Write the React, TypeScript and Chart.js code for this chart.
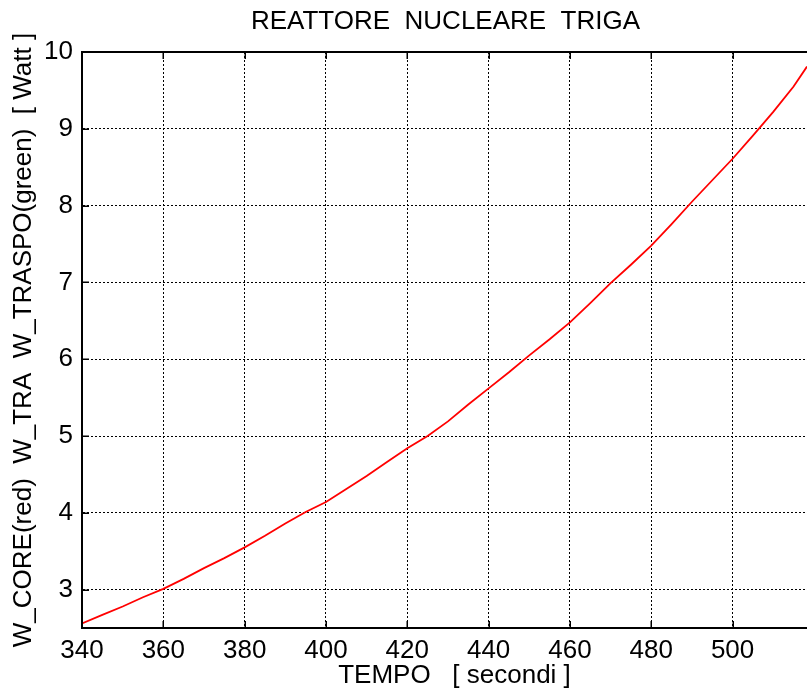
import React, { useEffect, useRef } from "react";
import { Chart, registerables } from "chart.js";

Chart.register(...registerables);

const titleText = "REATTORE  NUCLEARE  TRIGA";
const xTitle = "TEMPO   [ secondi ]";
const yTitle = "W_CORE(red)  W_TRA  W_TRASPO(green)  [ Watt ]";

const timeSeconds = [
  340, 345, 350, 355, 360, 365, 370, 375, 380, 385, 390, 395, 400, 405, 410,
  415, 420, 425, 430, 435, 440, 445, 450, 455, 460, 465, 470, 475, 480, 485,
  490, 495, 500, 505, 510, 515, 518.3,
];
const wCore = [
  2.56, 2.67, 2.78, 2.9, 3.01, 3.14, 3.28, 3.41, 3.55, 3.7, 3.86, 4.01, 4.14,
  4.31, 4.48, 4.66, 4.84, 5.0, 5.19, 5.41, 5.62, 5.83, 6.05, 6.26, 6.48, 6.73,
  6.99, 7.23, 7.48, 7.76, 8.05, 8.33, 8.61, 8.91, 9.22, 9.55, 9.81,
];

const xMin = 340;
const xMax = 518.3;
const xStep = 20;
const yMin = 2.5;
const yMax = 10;
const yStep = 1;

const FONT = "'Liberation Sans', Arial, Helvetica, sans-serif";

const matlabPlugin = {
  id: "matlabBox",
  afterDraw(chart: any) {
    const { ctx, chartArea } = chart;
    const xs = chart.scales.x;
    const ys = chart.scales.y;
    ctx.save();
    ctx.strokeStyle = "#000";
    // top border
    ctx.lineWidth = 2;
    ctx.beginPath();
    ctx.moveTo(chartArea.left - 1, chartArea.top);
    ctx.lineTo(chartArea.right, chartArea.top);
    ctx.stroke();
    // inward ticks
    ctx.lineWidth = 1.5;
    const tl = 7;
    xs.ticks.forEach((t: any) => {
      const px = Math.round(xs.getPixelForValue(t.value)) + 0.25;
      ctx.beginPath();
      ctx.moveTo(px, chartArea.bottom);
      ctx.lineTo(px, chartArea.bottom - tl);
      ctx.moveTo(px, chartArea.top);
      ctx.lineTo(px, chartArea.top + tl);
      ctx.stroke();
    });
    ys.ticks.forEach((t: any) => {
      const py = Math.round(ys.getPixelForValue(t.value)) + 0.25;
      ctx.beginPath();
      ctx.moveTo(chartArea.left, py);
      ctx.lineTo(chartArea.left + tl, py);
      ctx.stroke();
    });
    // title and x-axis label
    ctx.fillStyle = "#000";
    ctx.font = `26px ${FONT}`;
    ctx.textAlign = "center";
    ctx.textBaseline = "middle";
    const cx = (chartArea.left + chartArea.right) / 2;
    ctx.fillText(titleText, cx + 1, 22);
    ctx.fillText(xTitle, cx + 10, chart.height - 21);
    ctx.restore();
  },
};

export default function App() {
  const ref = useRef<HTMLCanvasElement>(null);
  useEffect(() => {
    if (!ref.current) return;
    const chart = new Chart(ref.current, {
      type: "line",
      data: {
        datasets: [
          {
            data: timeSeconds.map((t, i) => ({ x: t, y: wCore[i] })),
            borderColor: "#ff0000",
            borderWidth: 1.8,
            pointRadius: 0,
            tension: 0,
            fill: false,
          },
        ],
      },
      options: {
        animation: false,
        responsive: false,
        devicePixelRatio: 1,
        layout: { padding: { top: 52, right: 0, left: 0, bottom: 0 } },
        plugins: {
          legend: { display: false },
          tooltip: { enabled: false },
          title: { display: false },
        },
        scales: {
          x: {
            type: "linear",
            min: xMin,
            max: xMax,
            afterFit: (s: any) => {
              s.height = 69;
            },
            ticks: {
              stepSize: xStep,
              includeBounds: false,
              color: "#000",
              font: { family: FONT, size: 26 },
              padding: 7,
              maxRotation: 0,
              autoSkip: false,
            },
            grid: { color: "#000", lineWidth: 1, drawTicks: false },
            border: { display: true, color: "#000", width: 2, dash: [2, 2] },
            title: { display: false },
          },
          y: {
            type: "linear",
            min: yMin,
            max: yMax,
            afterFit: (s: any) => {
              s.width = 82;
            },
            ticks: {
              stepSize: yStep,
              includeBounds: false,
              color: "#000",
              font: { family: FONT, size: 26 },
              padding: 9,
            },
            grid: { color: "#000", lineWidth: 1, drawTicks: false },
            border: { display: true, color: "#000", width: 2, dash: [2, 2] },
            title: {
              display: true,
              text: yTitle,
              color: "#000",
              font: { family: FONT, size: 26 },
              padding: { top: 8, bottom: 0 },
            },
          },
        },
      },
      plugins: [matlabPlugin],
    });
    return () => chart.destroy();
  }, []);
  return (
    <div style={{ position: "fixed", left: 0, top: 0, width: 807, height: 697, background: "#fff" }}>
      <canvas ref={ref} width={807} height={697} style={{ display: "block" }} />
    </div>
  );
}
